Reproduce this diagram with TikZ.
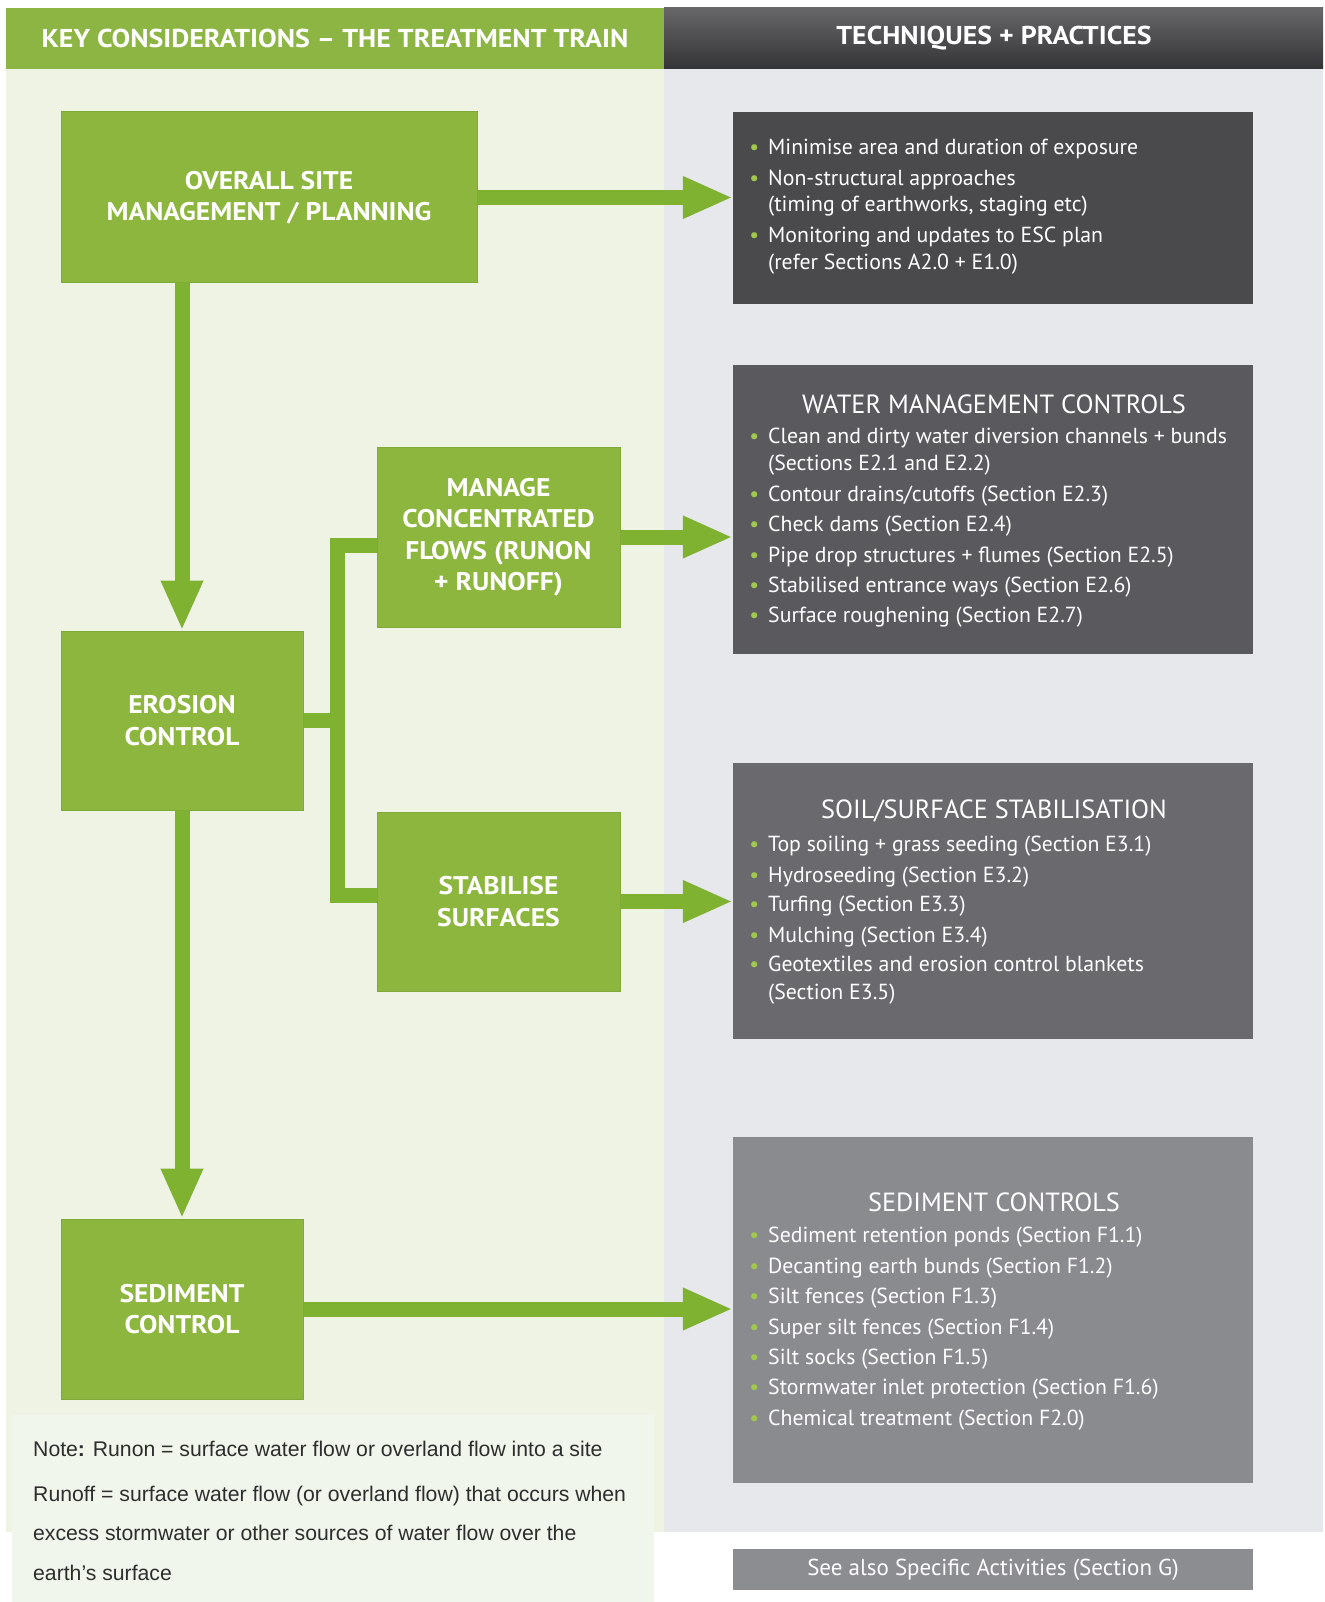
\documentclass[tikz,border=0pt]{standalone}
\usepackage{fontspec}
\setmainfont{PT Sans}
\newfontfamily\notefont{Liberation Sans}
\newfontfamily\widefont[FakeStretch=1.08]{PT Sans}
\usetikzlibrary{arrows.meta}
\definecolor{gfill}{RGB}{141,182,62}
\definecolor{gedge}{RGB}{128,170,55}
\definecolor{aflow}{RGB}{128,178,50}
\definecolor{hgreen}{RGB}{140,181,68}
\definecolor{hdark}{RGB}{52,52,54}
\definecolor{lpanel}{RGB}{238,243,228}
\definecolor{rpanel}{RGB}{230,232,236}
\definecolor{notebg}{RGB}{241,246,236}
\definecolor{boxA}{RGB}{74,74,77}
\definecolor{boxB}{RGB}{90,90,94}
\definecolor{boxC}{RGB}{106,106,110}
\definecolor{boxD}{RGB}{138,139,143}
\definecolor{boxE}{RGB}{140,141,145}
\definecolor{bulletg}{RGB}{160,200,80}
\definecolor{notetext}{RGB}{45,45,45}
\newcommand\bul{\llap{\textcolor{bulletg}{\textbullet}\hspace{9pt}}}
\tikzset{
  gbox/.style={fill=gfill, draw=gedge, line width=1pt, text=white, align=center,
    font=\widefont\bfseries\fontsize{25.5}{31.5}\selectfont, inner sep=0pt},
  tbox/.style={draw=none, minimum width=520pt, inner sep=0pt},
  ln/.style={anchor=west, text=white, inner sep=0pt, text height=15pt, text depth=5pt,
    font=\fontsize{21.8}{26}\selectfont},
  ttl/.style={text=white, inner sep=0pt, font=\fontsize{26.3}{30}\selectfont},
  flow/.style={draw=aflow, line width=15pt, -{Triangle[width=39pt,length=50pt]}},
  branch/.style={draw=aflow, line width=15pt, line join=miter},
  hdr/.style={text=white, inner sep=0pt, font=\widefont\bfseries\fontsize{25.8}{30}\selectfont},
  note/.style={anchor=west, text=notetext, inner sep=0pt, text height=15pt, text depth=5pt,
    font=\notefont\fontsize{21.2}{26}\selectfont}
}
\begin{document}
\begin{tikzpicture}[x=1pt,y=-1pt]
\useasboundingbox (0,0) rectangle (1324,1602);
\fill[white] (0,0) rectangle (1324,1602);
% panels
\fill[lpanel] (6,69) rectangle (664,1532);
\fill[rpanel] (664,69) rectangle (1323,1532);
\fill[hgreen] (6,8) rectangle (664,69);
\shade[top color=hdark!75!white, bottom color=hdark] (664,8) rectangle (1323,69);
\fill[notebg] (12,1415) rectangle (654,1602);
% headers
\node[hdr] (h1) at (335,38) {KEY CONSIDERATIONS – THE TREATMENT TRAIN};
\node[hdr] (h2) at (994,38) {TECHNIQUES + PRACTICES};
% green boxes
\node[gbox, minimum width=416pt, minimum height=171pt] (overall) at (269,197.5) {OVERALL SITE\\MANAGEMENT / PLANNING};
\node[gbox, minimum width=242pt, minimum height=179pt] (erosion) at (182,720.5) {EROSION\\CONTROL};
\node[gbox, minimum width=243pt, minimum height=180pt] (manage) at (498.5,537) {MANAGE\\CONCENTRATED\\FLOWS (RUNON\\+ RUNOFF)};
\node[gbox, minimum width=243pt, minimum height=179pt] (stab) at (498.5,901.5) {STABILISE\\SURFACES};
\node[gbox, minimum width=242pt, minimum height=180pt] (sediment) at (182,1309) {SEDIMENT\\CONTROL};
% right boxes
\node[tbox, fill=boxA, minimum height=192pt] (tech1) at (993,208) {};
\node[tbox, fill=boxB, minimum height=289pt] (tech2) at (993,509.5) {};
\node[tbox, fill=boxC, minimum height=276pt] (tech3) at (993,901) {};
\node[tbox, fill=boxD, minimum height=346pt] (tech4) at (993,1310) {};
\node[tbox, fill=boxE, minimum height=41pt, text=white, font=\fontsize{23}{26}\selectfont] (seealso) at (993,1569.5) {See also Specific Activities (Section G)};
% box 1 text
\node[ln] (a1) at (768,150) {\bul Minimise area and duration of exposure};
\node[ln] (a2) at (768,181) {\bul Non-structural approaches};
\node[ln] (a3) at (768,207) {(timing of earthworks, staging etc)};
\node[ln] (a4) at (768,238) {\bul Monitoring and updates to ESC plan};
\node[ln] (a5) at (768,265) {(refer Sections A2.0 + E1.0)};
% box 2 text
\node[ttl] (t2) at (994,404) {WATER MANAGEMENT CONTROLS};
\node[ln] (b1) at (768,438) {\bul Clean and dirty water diversion channels + bunds};
\node[ln] (b2) at (768,465) {(Sections E2.1 and E2.2)};
\node[ln] (b3) at (768,496) {\bul Contour drains/cutoffs (Section E2.3)};
\node[ln] (b4) at (768,526) {\bul Check dams (Section E2.4)};
\node[ln] (b5) at (768,557) {\bul Pipe drop structures + flumes (Section E2.5)};
\node[ln] (b6) at (768,587) {\bul Stabilised entrance ways (Section E2.6)};
\node[ln] (b7) at (768,617) {\bul Surface roughening (Section E2.7)};
% box 3 text
\node[ttl] (t3) at (994,811) {SOIL/SURFACE STABILISATION};
\node[ln] (c1) at (768,846) {\bul Top soiling + grass seeding (Section E3.1)};
\node[ln] (c2) at (768,877) {\bul Hydroseeding (Section E3.2)};
\node[ln] (c3) at (768,906) {\bul Turfing (Section E3.3)};
\node[ln] (c4) at (768,937) {\bul Mulching (Section E3.4)};
\node[ln] (c5) at (768,966) {\bul Geotextiles and erosion control blankets};
\node[ln] (c6) at (768,994) {(Section E3.5)};
% box 4 text
\node[ttl] (t4) at (994,1202) {SEDIMENT CONTROLS};
\node[ln] (d1) at (768,1237) {\bul Sediment retention ponds (Section F1.1)};
\node[ln] (d2) at (768,1268) {\bul Decanting earth bunds (Section F1.2)};
\node[ln] (d3) at (768,1298) {\bul Silt fences (Section F1.3)};
\node[ln] (d4) at (768,1329) {\bul Super silt fences (Section F1.4)};
\node[ln] (d5) at (768,1359) {\bul Silt socks (Section F1.5)};
\node[ln] (d6) at (768,1389) {\bul Stormwater inlet protection (Section F1.6)};
\node[ln] (d7) at (768,1420) {\bul Chemical treatment (Section F2.0)};
% note
\node[note] (n1) at (33,1451) {Note\textbf{:} Runon = surface water flow or overland flow into a site};
\node[note] (n2) at (33,1496) {Runoff = surface water flow (or overland flow) that occurs when};
\node[note] (n3) at (33,1535) {excess stormwater or other sources of water flow over the};
\node[note] (n4) at (33,1575) {earth’s surface};
% connectors
\draw[flow] (erosion.north |- overall.south) -- (erosion.north);
\draw[flow] (erosion.south) -- (sediment.north);
\draw[flow] (overall.east) -- (overall.east -| tech1.west);
\draw[flow] (manage.east) -- (manage.east -| tech2.west);
\draw[flow] (stab.east) -- (stab.east -| tech3.west);
\draw[flow] (sediment.east) -- (sediment.east -| tech4.west);
\coordinate (bx) at (337,720.5);
\draw[branch] ([yshift=-8pt]manage.west) -| (bx) |- ([yshift=6pt]stab.west);
\draw[branch] (erosion.east) -- (bx);
\end{tikzpicture}
\end{document}
